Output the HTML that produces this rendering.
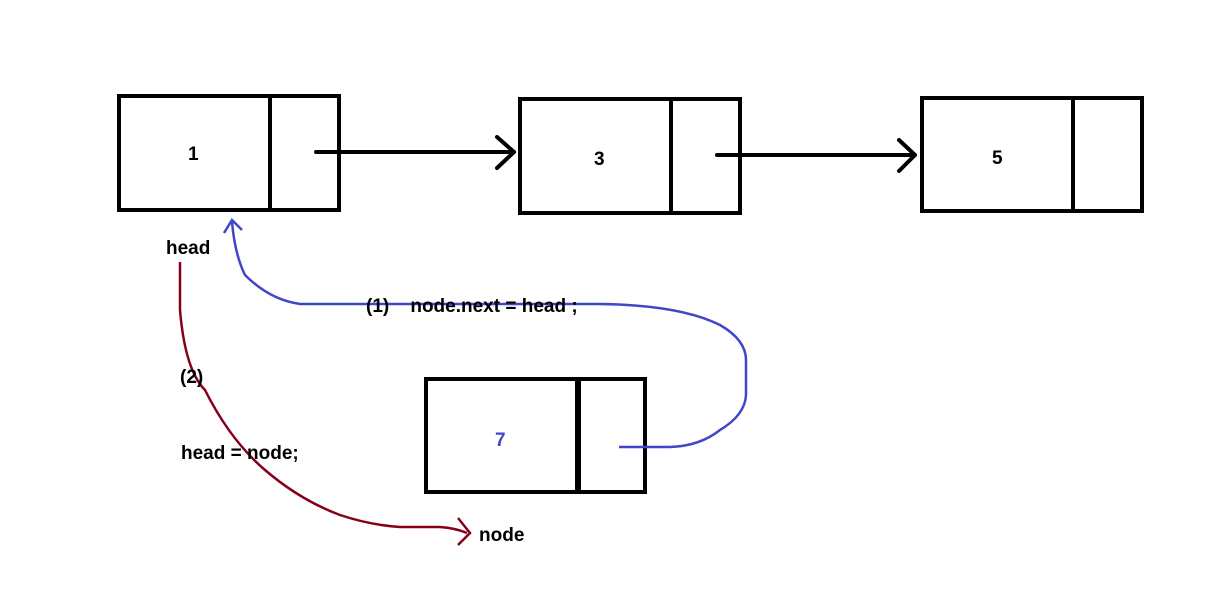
<!DOCTYPE html>
<html><head><style>
body{margin:0;background:#fff;}
svg{display:block}
text{font-family:"Liberation Sans",sans-serif;font-weight:bold;font-size:19px;fill:#000}
</style></head><body>
<svg width="1210" height="607" viewBox="0 0 1210 607">
<g fill="none" stroke="#000" stroke-width="4">
<rect x="119" y="96" width="220" height="114"/><line x1="270" y1="96" x2="270" y2="210"/>
<rect x="520" y="99" width="220" height="114"/><line x1="671" y1="99" x2="671" y2="213"/>
<rect x="922" y="98" width="220" height="113"/><line x1="1073" y1="98" x2="1073" y2="211"/>
<rect x="426" y="379" width="219" height="113"/><line x1="578" y1="379" x2="578" y2="492" stroke-width="6"/>
<path d="M316 152 H514 M497 137 L514 152 L497 168" stroke-linecap="round" stroke-linejoin="round"/>
<path d="M717 155 H915 M899 140 L915 155 L899 171" stroke-linecap="round" stroke-linejoin="round"/>
</g>
<path d="M619 447 H670 Q700 446 720 430 Q745 415 746 395 V360 Q746 340 720 325 Q680 305 600 304 H300 Q270 300 245 275 Q235 255 232 222 M224 233 L232 220 L242 230" fill="none" stroke="#3f46c9" stroke-width="2.5"/>
<path d="M180 262 V310 Q185 370 205 390 Q230 440 265 470 Q300 500 340 515 Q370 525 400 527 H440 Q455 528 467 533 M458 518 L470 533 L458 545" fill="none" stroke="#87001b" stroke-width="2.5"/>
<text x="188" y="160">1</text>
<text x="594" y="165">3</text>
<text x="992" y="164">5</text>
<text x="495" y="446" style="fill:#3f46c9">7</text>
<text x="166" y="254">head</text>
<text x="366" y="312" xml:space="preserve">(1)    node.next = head ;</text>
<text x="180" y="383">(2)</text>
<text x="181" y="459">head = node;</text>
<text x="479" y="541">node</text>
</svg>
</body></html>
